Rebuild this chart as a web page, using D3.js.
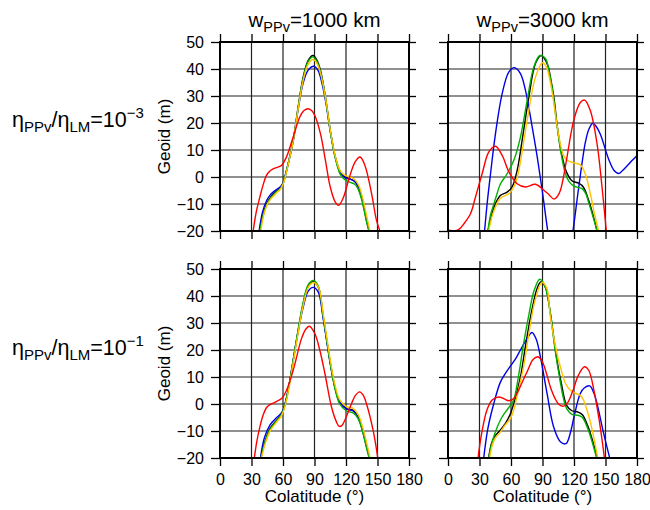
<!DOCTYPE html>
<html>
<head>
<meta charset="utf-8">
<script src="https://cdn.jsdelivr.net/npm/d3@7"></script>
<style>
  body { margin: 0; background: #fff; }
  text { font-family: 'Liberation Sans', Arial, Helvetica, sans-serif; }
</style>
</head>
<body>
<script>
// ================= data: [colatitude, geoid] =========
var xTicks = [0, 30, 60, 90, 120, 150, 180]
var yTicks = [-20, -10, 0, 10, 20, 30, 40, 50]
var colTitles = ['1000', '3000']
var rowExponents = ['\u22123', '\u22121']

// top left: wPPv = 1000 km, ratio 1e-3
var tlBlack = [[38, -20], [41, -14], [44.3, -10], [47.5, -7.8], [50.6, -6.4], [54, -5.2], [57, -4.3], [60, -2.5], [62.5, 1], [65, 5], [69.7, 13.6], [74.4, 25.9], [79.2, 37], [84, 43.2], [88.5, 45], [92, 43.5], [95.7, 39.5], [100.4, 29.6], [105, 17.3], [109.8, 7.4], [114.5, 1.9], [119, 0], [124, -0.8], [128, -1.5], [131, -3], [135, -7.4], [139.7, -16], [142.2, -20]]
var tlGreen = [[38, -20], [41, -14.5], [44.3, -10.5], [47.5, -8.2], [50.6, -6.8], [54, -5.5], [57, -4.5], [60, -2.6], [62.5, 1], [65, 5], [69.7, 13.4], [74.4, 25.5], [79.2, 36.5], [84, 42.8], [88.5, 44.5], [92, 43], [95.7, 39], [100.4, 29.5], [105, 17], [109.8, 7], [114.5, 1], [119, -1], [124, -2], [128, -2.6], [131, -4], [135, -8.5], [139.5, -16.5], [141.8, -20]]
var tlYellow = [[38.8, -20], [42, -13.5], [45, -10.2], [48, -8.3], [51, -7], [54, -5.8], [57, -4.7], [60, -2.8], [62.5, 0.6], [65, 4.7], [69.7, 13.3], [74.4, 25.2], [79.2, 35.8], [84, 41.8], [88.8, 43.5], [92.5, 42], [96, 38], [100.6, 29], [105.2, 17], [110, 7.4], [114.5, 2.3], [119, 0.6], [124, 0], [128, -0.8], [132, -3], [136, -8], [140.5, -16], [142.8, -20]]
var tlBlue = [[37.2, -20], [40.5, -13], [44.3, -8.8], [47.5, -6.8], [50.6, -5.6], [54, -4.6], [57, -3.8], [60, -2.2], [62.5, 1], [65, 5], [69.7, 13.4], [74.4, 25], [79.2, 34.8], [84, 39.6], [89.4, 41], [93, 39.8], [96, 36.5], [100.4, 28.5], [105, 17], [109.8, 7.3], [114.5, 1.8], [119, -0.3], [124, -0.8], [128, -1.6], [131, -3.2], [135, -7.8], [139.7, -16.3], [142, -20]]
var tlRed = [[31.6, -20], [34.5, -13], [38, -7.4], [41, -3], [44.3, 0.6], [47.5, 2.2], [50.6, 3], [54.5, 3.6], [58.6, 4.3], [63.3, 7.4], [69.7, 14.8], [76, 22.2], [80, 24.6], [84, 25.3], [87.5, 24.5], [90.3, 22.8], [95.7, 16], [100.4, 6.2], [105, -3.7], [109.8, -9.3], [113, -10.5], [117.7, -7.4], [122.4, -1.2], [128.7, 5.6], [133.4, 7.4], [138, 4.3], [144.4, -6.2], [149, -16], [152.3, -20]]

// top right: wPPv = 3000 km, ratio 1e-3
var trBlack = [[38, -20], [41, -15], [43.7, -11.2], [47, -8.5], [50, -6.8], [56.3, -5.6], [61, -3.7], [65.9, 2.5], [70.6, 13.6], [77, 29.6], [83.3, 42], [88.7, 45], [94.4, 42], [98, 36], [101, 29], [104, 19], [107, 11], [110, 5.5], [113, 1.7], [118, -1.4], [124.5, -2.3], [129, -3.8], [134, -8.7], [138.7, -14.9], [142, -20]]
var trGreen = [[38, -20], [40.5, -14], [43.7, -10], [47, -5.8], [50, -2.5], [56.3, 1.2], [62.7, 6.2], [69, 14.8], [75.4, 28.4], [81.7, 40.7], [87.5, 45], [92.9, 43.8], [96, 39.5], [99.2, 33], [102.5, 23], [106, 13], [109, 6], [112, 1], [115.5, -1.8], [119.7, -3.3], [124, -3.9], [127.6, -4.3], [131, -6], [134, -9.5], [138.7, -15.5], [142, -20]]
var trYellow = [[38.8, -20], [42, -14.5], [45.2, -11.2], [48, -8.8], [51.6, -7.4], [58, -6.2], [62.7, -3.7], [66, 0], [69, 5.6], [75.4, 21], [83.3, 37], [90, 42.3], [94, 40.5], [97, 36], [100, 29.5], [103.5, 20], [107, 12.2], [110, 8], [113.3, 6.3], [119.7, 5.2], [126, 4.5], [130.8, 1.1], [135.6, -6.3], [140.3, -15], [143.5, -20]]
var trBlue = [[34.8, -20], [37.5, -9], [40.5, 1.2], [45.2, 16], [51.6, 30.9], [58, 38.9], [63.3, 40.5], [69, 38.3], [73.8, 32.1], [80.2, 18.5], [85, 7.4], [89.7, -4.9], [95, -20], [100, -32], [107, -38], [114, -32], [119, -20], [124.5, -3.8], [130.8, 12.8], [134, 17.5], [137.8, 19.9], [141, 18.8], [145, 15.9], [153, 6.6], [158, 2.5], [162.5, 1.3], [166, 2.3], [170.5, 4.1], [175, 6], [180, 7.9]]
var trRed = [[0, -19.6], [4, -19.9], [8, -19.8], [11, -19.2], [15, -17.4], [21.4, -13.6], [26.2, -7.4], [32.5, 1.2], [38.9, 9.3], [45.2, 11.4], [51.6, 8], [58, 1.9], [65.9, -2.5], [73.8, -3.7], [83.3, -2.7], [91.3, -4.9], [96, -6.5], [101, -8.2], [104.5, -7], [107, -5], [110, 0], [113.3, 7.3], [119.7, 20.9], [126, 27.6], [130.2, 28.5], [135.6, 24.5], [142, 12.2], [146.7, -3.8], [150.8, -20]]

// bottom left: wPPv = 1000 km, ratio 1e-1
var blBlack = [[39, -20], [42.8, -14], [47.5, -9.1], [53.9, -6], [57, -4.6], [60.2, -2.3], [63.5, 2.5], [66.6, 8.8], [72.9, 23.7], [79.3, 37.3], [84, 43.7], [88.8, 45.3], [93.5, 43.4], [98.3, 32.3], [104.6, 16.2], [109.4, 6.3], [114, 0.8], [120.5, -1.7], [126.8, -2.3], [131.6, -4.8], [136, -10], [139.5, -15.5], [142.5, -20]]
var blGreen = [[39, -20], [42.8, -14.3], [47.5, -9.5], [53.9, -6.3], [57, -4.8], [60.2, -2.5], [63.5, 2.3], [66.6, 8.8], [72.9, 24], [79.3, 37.8], [84, 44.2], [88.8, 45.8], [93.5, 43.8], [98.3, 32.5], [104.6, 16], [109.4, 5.8], [114, 0], [120.5, -2.6], [126.8, -3.3], [131.6, -5.5], [136, -10.5], [139.3, -16], [142, -20]]
var blYellow = [[39.5, -20], [43.2, -14.5], [48, -9.8], [54.3, -6.5], [57.5, -5], [60.5, -2.6], [63.8, 2.2], [66.9, 8.6], [73.2, 23.5], [79.5, 37], [84.3, 43.4], [89, 45], [93.8, 43.2], [98.6, 32.5], [104.9, 16.6], [109.7, 6.8], [114.3, 1.3], [120.5, -1], [126.8, -1.6], [131.8, -4], [136.5, -9.5], [140, -15], [143, -20]]
var blBlue = [[38.5, -20], [42.3, -12.5], [47.5, -7.8], [53.9, -5], [57, -4], [60.2, -2.2], [63.5, 2.5], [66.6, 8.8], [72.9, 23.5], [79.3, 36], [84, 41.8], [88.8, 43.2], [93.5, 41.5], [98.3, 31.5], [104.6, 16], [109.4, 6.3], [114, 0.8], [120.5, -1.9], [126.8, -2.6], [131.6, -5], [136, -10.2], [139.5, -15.7], [142.5, -20]]
var blRed = [[32.7, -20], [35, -14], [38, -8.5], [41, -4.2], [44.4, -1.3], [47.5, -0.2], [50.7, 0.3], [54.5, 1.1], [58.6, 2], [63.4, 5.1], [69.7, 12.5], [77.7, 24.3], [81.5, 27.6], [85, 28.8], [90.3, 26.1], [95, 20], [99.9, 11.3], [106.2, -1.1], [111, -6.7], [113.5, -8.3], [116, -8], [118.9, -6], [125.2, 0.1], [129, 3.2], [133, 4.5], [136.5, 3.2], [139.5, 0.1], [145.8, -9.7], [150.3, -20]]

// bottom right: wPPv = 3000 km, ratio 1e-1
var brBlack = [[38.7, -20], [41.5, -14.5], [44.5, -12], [49.8, -9.7], [55, -7], [59.4, -3.6], [64, 2], [69, 10], [74, 22], [80, 35], [85, 43], [88.6, 45.3], [93, 43], [97.5, 33.5], [103.8, 16.2], [108, 7.5], [113, -0.5], [118, -2.5], [124, -3], [128, -4], [133, -8], [138, -14], [142, -20]]
var brGreen = [[38.7, -20], [41.5, -15], [44.5, -11], [49.8, -6], [55, -2.8], [59.4, -0.5], [62.5, 1.4], [67, 10], [72, 22.4], [77, 33], [82, 42], [87.3, 46.2], [92, 44], [97, 35], [102, 20], [107, 8], [110, 2], [113, -1.7], [118, -3.8], [124, -4.2], [128, -5], [133, -9], [138, -15], [141.5, -20]]
var brYellow = [[39.6, -20], [42, -15.5], [44.5, -13], [49.8, -10.4], [55, -7.5], [59.4, -5.4], [62.5, -2.3], [67, 5], [72, 13.8], [77, 26], [83, 38.5], [89.5, 45], [94, 43], [97.5, 32.3], [103.8, 18.7], [107, 13.8], [112, 7.5], [116.5, 5.1], [121, 4], [126, 3.2], [129, 1.5], [132.4, -2.3], [135.5, -6.5], [138.7, -12.2], [142.6, -20]]
var brBlue = [[34, -20], [38, -9], [43.5, 0], [49.8, 8], [55, 11.5], [59.4, 14], [64, 16.5], [69, 20], [75, 24], [80, 26.5], [84, 24], [88, 17.5], [94.3, 4], [100.6, -8.5], [107, -14], [112.4, -14.7], [117, -10], [120, -4.8], [126, 3.9], [130, 6], [135, 6.7], [139, 4], [142, 0], [148.3, -11], [154, -20]]
var brRed = [[28.6, -20], [32, -11], [37, -2.3], [42, 1.5], [48.3, 2.6], [53, 2], [58, 1.2], [62, 1.8], [65.7, 3.9], [70, 7.5], [76, 12.5], [81, 16.5], [85.7, 17.5], [90, 15.5], [94, 11], [97.5, 6.3], [102, 2], [106, -0.3], [110, -0.8], [114, 0.5], [119, 5], [124, 10.5], [130, 13.8], [134, 12.5], [139, 5], [144, -6], [149, -20]]

var colors = { black: '#000000', blue: '#0000e6', green: '#00b000', yellow: '#ffc400', red: '#ff0000' }

var panels = [
  { col: 0, row: 0, lines: { black: tlBlack, blue: tlBlue, green: tlGreen, yellow: tlYellow, red: tlRed } },
  { col: 1, row: 0, lines: { black: trBlack, blue: trBlue, green: trGreen, yellow: trYellow, red: trRed } },
  { col: 0, row: 1, lines: { black: blBlack, blue: blBlue, green: blGreen, yellow: blYellow, red: blRed } },
  { col: 1, row: 1, lines: { black: brBlack, blue: brBlue, green: brGreen, yellow: brYellow, red: brRed } }
]

// ====layout=====
var s = 189
var colX = [220, 448]
var rowY = [42, 269]

var svg = d3.select('body').append('svg')
  .attr('width', 650)
  .attr('height', 510)

var x = d3.scaleLinear().domain([0, 180]).range([0, s])
var y = d3.scaleLinear().domain([-20, 50]).range([s, 0])

var line = d3.line()
  .x(function (d) { return x(d[0]) })
  .y(function (d) { return y(d[1]) })
  .curve(d3.curveCatmullRom.alpha(0.5))

panels.forEach(function (p, i) {
  var g = svg.append('g')
    .attr('transform', 'translate(' + colX[p.col] + ',' + rowY[p.row] + ')')

  g.append('clipPath').attr('id', 'clip' + i)
    .append('rect').attr('width', s).attr('height', s)

  // grid
  g.selectAll('.gx').data(xTicks).enter().append('line')
    .attr('x1', function (d) { return x(d) }).attr('x2', function (d) { return x(d) })
    .attr('y1', 0).attr('y2', s)
    .attr('stroke', '#222').attr('stroke-width', 1.2)
  g.selectAll('.gy').data(yTicks).enter().append('line')
    .attr('y1', function (d) { return y(d) }).attr('y2', function (d) { return y(d) })
    .attr('x1', 0).attr('x2', s)
    .attr('stroke', '#222').attr('stroke-width', 1.2)

  // curves
  var plot = g.append('g').attr('clip-path', 'url(#clip' + i + ')')
  ;['black', 'blue', 'green', 'yellow', 'red'].forEach(function (k) {
    plot.append('path')
      .attr('d', line(p.lines[k]))
      .attr('fill', 'none')
      .attr('stroke', colors[k])
      .attr('stroke-width', 1.4)
  })

  // axes with outward ticks
  var left = d3.axisLeft(y).tickValues(yTicks).tickSize(9).tickPadding(7).tickSizeOuter(0)
  var right = d3.axisRight(y).tickValues(yTicks).tickSize(7).tickFormat('').tickSizeOuter(0)
  var bottom = d3.axisBottom(x).tickValues(xTicks).tickSize(8).tickPadding(8).tickSizeOuter(0)
  var top = d3.axisTop(x).tickValues(xTicks).tickSize(8).tickFormat('').tickSizeOuter(0)
  if (p.col !== 0) left.tickFormat('')
  if (p.row !== 1) bottom.tickFormat('')

  var axes = [
    g.append('g').call(left),
    g.append('g').attr('transform', 'translate(' + s + ',0)').call(right),
    g.append('g').attr('transform', 'translate(0,' + s + ')').call(bottom),
    g.append('g').call(top)
  ]
  axes.forEach(function (a) {
    a.select('.domain').remove()
    a.selectAll('line').attr('stroke', '#000').attr('stroke-width', 1.3)
    a.selectAll('text').attr('font-size', 16).attr('fill', '#000')
      .style('font-family', "'Liberation Sans', Arial, sans-serif")
  })

  // frame
  g.append('rect')
    .attr('width', s).attr('height', s)
    .attr('fill', 'none').attr('stroke', '#000').attr('stroke-width', 2)

  if (p.col === 0) {
    svg.append('text')
      .attr('transform', 'translate(170,' + (rowY[p.row] + s / 2) + ') rotate(-90)')
      .attr('text-anchor', 'middle')
      .attr('font-size', 17)
      .text('Geoid (m)')
  }
  if (p.row === 1) {
    svg.append('text')
      .attr('x', colX[p.col] + s / 2).attr('y', 502)
      .attr('text-anchor', 'middle')
      .attr('font-size', 17)
      .text('Colatitude (\u00b0)')
  }
})

// column titles
colTitles.forEach(function (w, c) {
  var t = svg.append('text')
    .attr('x', colX[c] + s / 2).attr('y', 27)
    .attr('text-anchor', 'middle')
    .attr('font-size', 20.5)
  t.append('tspan').text('w')
  t.append('tspan').attr('font-size', 14.5).attr('dy', 5).text('PPv')
  t.append('tspan').attr('dy', -5).text('=' + w + ' km')
})

// row labels
rowExponents.forEach(function (e, r) {
  var t = svg.append('text')
    .attr('x', 12).attr('y', r === 0 ? 127 : 355)
    .attr('font-size', 21.5)
  t.append('tspan').text('\u03b7')
  t.append('tspan').attr('font-size', 15).attr('dy', 5).text('PPv')
  t.append('tspan').attr('dy', -5).text('/\u03b7')
  t.append('tspan').attr('font-size', 15).attr('dy', 5).text('LM')
  t.append('tspan').attr('dy', -5).text('=10')
  t.append('tspan').attr('font-size', 15).attr('dy', -9).text(e)
})
</script>
</body>
</html>
